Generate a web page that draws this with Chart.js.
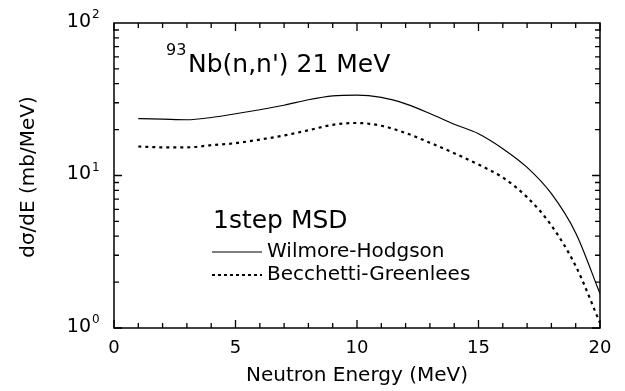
<!DOCTYPE html>
<html lang="en">
<head>
<meta charset="UTF-8">
<script src="https://cdn.jsdelivr.net/npm/chart.js"></script>
<title>93Nb(n,n') 21 MeV 1step MSD</title>
<style>
  html, body { margin: 0; padding: 0; background: #fff; }
</style>
</head>
<body>
<canvas id="myChart" width="625" height="391"></canvas>
<script>
  // neutron energy (MeV)
  const energies = [1, 2, 3, 4, 5, 6, 7, 8, 9, 10, 11, 12, 13, 14, 15, 16, 17, 18, 19, 20];
  // dsigma/dE (mb/MeV)
  const wilmoreHodgson = [23.6, 23.4, 23.2, 24.0, 25.4, 27.0, 28.9, 31.4, 33.3, 33.7, 32.5, 29.5, 25.5, 21.7, 18.8, 15.0, 11.3, 7.6, 4.2, 1.68];
  const becchettiGreenlees = [15.5, 15.3, 15.3, 15.8, 16.3, 17.2, 18.3, 19.8, 21.5, 22.1, 21.2, 19.0, 16.4, 14.0, 11.8, 9.7, 7.2, 4.7, 2.55, 1.08];
  const xTickValues = [0, 5, 10, 15, 20];
  const yDecades = [0, 1, 2];
  const seriesNames = ['Wilmore-Hodgson', 'Becchetti-Greenlees'];

  const FONT = '"DejaVu Sans", sans-serif';

  function toPoints(ys) {
    return energies.map((e, i) => ({ x: e, y: ys[i] }));
  }

  // draws the frame, inward ticks, labels and the text inside the plot
  const framePlugin = {
    id: 'frame',
    afterDraw(chart) {
      const c = chart.ctx;
      const a = chart.chartArea;
      const xs = chart.scales.x;
      const ys = chart.scales.y;
      c.save();
      c.strokeStyle = '#000';
      c.fillStyle = '#000';
      c.lineWidth = 1.5;
      c.strokeRect(a.left, a.top, a.right - a.left, a.bottom - a.top);

      c.lineWidth = 1.3;
      c.beginPath();
      for (let i = 0; i <= 20; i++) {
        const px = xs.getPixelForValue(i);
        const len = i % 5 === 0 ? 8 : 5;
        c.moveTo(px, a.bottom); c.lineTo(px, a.bottom - len);
        c.moveTo(px, a.top); c.lineTo(px, a.top + len);
      }
      for (let d = 0; d < 2; d++) {
        for (let m = 1; m <= 9; m++) {
          const py = ys.getPixelForValue(m * Math.pow(10, d));
          const len = m === 1 ? 8 : 5;
          c.moveTo(a.left, py); c.lineTo(a.left + len, py);
          c.moveTo(a.right, py); c.lineTo(a.right - len, py);
        }
      }
      c.stroke();

      // x tick labels
      c.font = '18px ' + FONT;
      c.textAlign = 'center';
      c.textBaseline = 'middle';
      xTickValues.forEach(v => {
        c.fillText(String(v), xs.getPixelForValue(v), 348);
      });

      // y tick labels 10^n
      yDecades.forEach(n => {
        const py = ys.getPixelForValue(Math.pow(10, n));
        c.font = '19px ' + FONT;
        c.textAlign = 'right';
        c.textBaseline = 'middle';
        c.fillText('10', a.left - 23, py - 1);
        c.font = '12px ' + FONT;
        c.textAlign = 'left';
        c.fillText(String(n), a.left - 22, py - 8);
      });

      // axis titles
      c.font = '20px ' + FONT;
      c.textAlign = 'center';
      c.textBaseline = 'middle';
      c.fillText('Neutron Energy (MeV)', (a.left + a.right) / 2, 376);
      c.save();
      c.translate(29, 177);
      c.rotate(-Math.PI / 2);
      c.fillText('d\u03c3/dE (mb/MeV)', 0, 0);
      c.restore();

      // reaction label
      c.textAlign = 'left';
      c.textBaseline = 'alphabetic';
      c.font = '16px ' + FONT;
      c.fillText('93', 166, 55);
      c.font = '25px ' + FONT;
      c.fillText("Nb(n,n') 21 MeV", 188, 72);
      c.fillText('1step MSD', 213, 228);

      // legend
      c.font = '20px ' + FONT;
      c.textBaseline = 'middle';
      c.lineWidth = 1.2;
      c.beginPath();
      c.moveTo(212, 252); c.lineTo(262, 252);
      c.stroke();
      c.fillText(seriesNames[0], 267, 252);
      c.lineWidth = 2;
      c.setLineDash([3, 3]);
      c.beginPath();
      c.moveTo(212, 275); c.lineTo(262, 275);
      c.stroke();
      c.setLineDash([]);
      c.fillText(seriesNames[1], 267, 275);
      c.restore();
    }
  };

  new Chart(document.getElementById('myChart'), {
    type: 'line',
    data: {
      datasets: [{
        label: seriesNames[0],
        data: toPoints(wilmoreHodgson),
        borderColor: '#000',
        borderWidth: 1.2,
        pointRadius: 0,
        cubicInterpolationMode: 'monotone'
      }, {
        label: seriesNames[1],
        data: toPoints(becchettiGreenlees),
        borderColor: '#000',
        borderWidth: 2.2,
        borderDash: [3, 4],
        pointRadius: 0,
        cubicInterpolationMode: 'monotone'
      }]
    },
    options: {
      responsive: false,
      devicePixelRatio: 1,
      animation: false,
      layout: { padding: { left: 114, right: 25, top: 23, bottom: 63 } },
      scales: {
        x: { type: 'linear', min: 0, max: 20, display: false },
        y: { type: 'logarithmic', min: 1, max: 100, display: false }
      },
      plugins: { legend: { display: false }, tooltip: { enabled: false } }
    },
    plugins: [framePlugin]
  });
</script>
</body>
</html>
